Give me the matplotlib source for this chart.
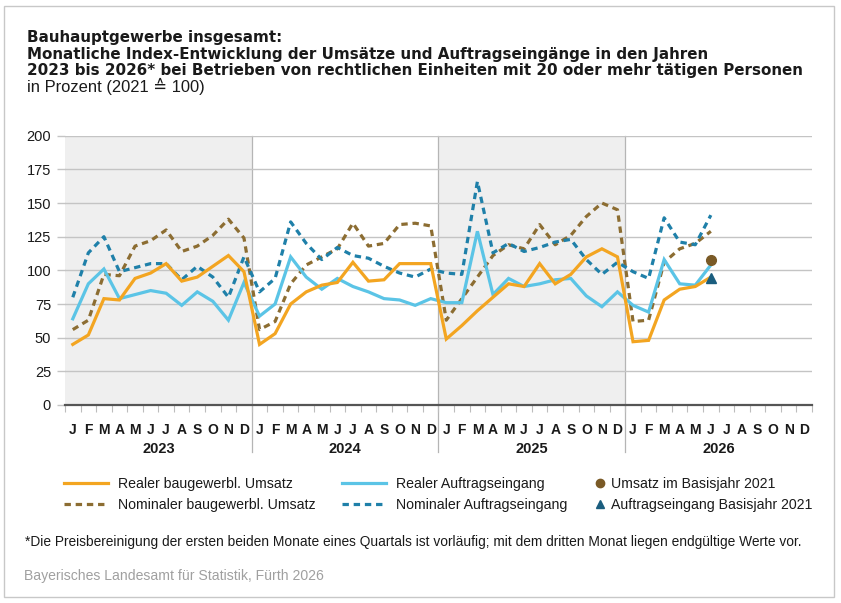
import matplotlib
matplotlib.use("Agg")
import matplotlib.pyplot as plt
from matplotlib.lines import Line2D
from matplotlib.patches import Rectangle
import numpy as np

# ------------------------------------------------------------------
# data (index values, 2021 = 100), Jan 2023 .. Jun 2026
# ------------------------------------------------------------------
years = ["2023", "2024", "2025", "2026"]
month_letters = ["J", "F", "M", "A", "M", "J", "J", "A", "S", "O", "N", "D"]

real_umsatz = [45, 52, 79, 78, 94, 98, 105, 92, 95, 103, 111, 99,
               45, 53, 75, 84, 89, 91, 106, 92, 93, 105, 105, 105,
               49, 59, 70, 80, 90, 88, 105, 90, 97, 110, 116, 110,
               47, 48, 78, 86, 88, 95]
nominal_umsatz = [56, 63, 97, 96, 118, 122, 130, 114, 118, 126, 138, 124,
                  56, 62, 90, 104, 110, 116, 135, 118, 120, 134, 135, 133,
                  63, 79, 95, 111, 119, 116, 134, 119, 126, 140, 150, 145,
                  62, 63, 106, 116, 120, 129]
real_auftrag = [64, 90, 101, 79, 82, 85, 83, 74, 84, 77, 63, 91,
                66, 75, 110, 95, 86, 94, 88, 84, 79, 78, 74, 79,
                76, 76, 129, 82, 94, 88, 90, 93, 94, 81, 73, 84,
                74, 69, 108, 90, 89, 104]
nominal_auftrag = [80, 113, 125, 99, 102, 105, 105, 93, 103, 95, 80, 110,
                   84, 94, 136, 120, 108, 117, 111, 109, 103, 98, 95, 101,
                   98, 97, 166, 113, 120, 114, 117, 121, 123, 108, 97, 106,
                   99, 94, 139, 121, 119, 141]
basis_umsatz = 108      # Umsatz im Basisjahr 2021 (shown at Jun 2026)
basis_auftrag = 94      # Auftragseingang Basisjahr 2021
basis_month = 41        # index of Jun 2026

# ------------------------------------------------------------------
# styling
# ------------------------------------------------------------------
plt.rcParams['font.family'] = ['Liberation Sans', 'DejaVu Sans']
c_orange = '#f3a521'
c_lblue = '#5bc4e6'
c_brown = '#8c6d32'
c_dblue = '#1f80a9'
c_grid = '#c4c4c4'
c_shade = '#efefef'
c_text = '#1a1a1a'

fig = plt.figure(figsize=(8.41, 6.03), dpi=100)
W, H = 841, 603

# outer frame
fig.patches.append(Rectangle((4 / W, 1 - 597 / H), 830 / W, 591 / H, transform=fig.transFigure,
                             facecolor='none', edgecolor='#c8c8c8', linewidth=1.0))

ax = fig.add_axes([65 / W, 198 / H, 747 / W, 269.3 / H])

n_months = 12 * len(years)
x = np.arange(len(real_umsatz)) + 0.5

# shaded years
for k in (0, 2):
    ax.axvspan(12 * k, 12 * (k + 1), color=c_shade, zorder=0, lw=0)

# year separators (extend down to the year labels)
for k in (1, 2, 3):
    ax.plot([12 * k, 12 * k], [1.0, -0.175], transform=ax.get_xaxis_transform(),
            color='#b5b5b5', lw=0.9, clip_on=False, zorder=1)

# horizontal gridlines
for v in range(25, 201, 25):
    ax.axhline(v, color=c_grid, lw=1.0, zorder=1)

# lines
ax.plot(x, real_umsatz, color=c_orange, lw=2.3, zorder=5, solid_joinstyle='miter')
ax.plot(x, real_auftrag, color=c_lblue, lw=2.3, zorder=4, solid_joinstyle='miter')
ax.plot(x, nominal_umsatz, color=c_brown, lw=2.3, dashes=(2.0, 1.5), zorder=3)
ax.plot(x, nominal_auftrag, color=c_dblue, lw=2.3, dashes=(2.0, 1.5), zorder=3)

ax.plot(x[basis_month], basis_umsatz, 'o', color='#7a5a26', ms=7, zorder=6)
ax.plot(x[basis_month], basis_auftrag, '^', color='#1a5d7e', ms=7, zorder=6)

# axes
ax.set_xlim(0, n_months)
ax.set_ylim(0, 200)
for s in ('top', 'right', 'left'):
    ax.spines[s].set_visible(False)
ax.spines['bottom'].set_color('#555555')
ax.spines['bottom'].set_linewidth(1.6)
ax.spines['bottom'].set_zorder(7)
ax.set_facecolor('none')

ax.set_yticks(range(0, 201, 25))
ax.tick_params(axis='y', length=6, width=1.0, color=c_grid, pad=4, labelsize=10.5, labelcolor=c_text)

ax.set_xticks(np.arange(n_months) + 0.5)
ax.set_xticklabels(month_letters * len(years), fontweight='bold', fontsize=10, color=c_text)
ax.set_xticks(np.arange(n_months + 1), minor=True)
ax.tick_params(axis='x', which='major', length=0, pad=13)
ax.tick_params(axis='x', which='minor', length=5, width=0.8, color='#bdbdbd')

# year labels
for k, yr in enumerate(years):
    ax.text(12 * k + 6, -0.165, yr, transform=ax.get_xaxis_transform(), ha='center', va='center',
            fontsize=10.5, fontweight='bold', color=c_text)

# legend
lh = [Line2D([], [], color=c_orange, lw=2.3),
      Line2D([], [], color=c_brown, lw=2.3, dashes=(2.0, 1.5)),
      Line2D([], [], color=c_lblue, lw=2.3),
      Line2D([], [], color=c_dblue, lw=2.3, dashes=(2.0, 1.5))]
ll = ['Realer baugewerbl. Umsatz', 'Nominaler baugewerbl. Umsatz',
      'Realer Auftragseingang', 'Nominaler Auftragseingang']
fig.legend(lh, ll, ncol=2, loc='upper left', bbox_to_anchor=(64 / W, 1 - 477 / H),
           frameon=False, fontsize=10.2, handlelength=3.1, handletextpad=0.72,
           columnspacing=1.85, labelspacing=0.48, borderpad=0, borderaxespad=0,
           labelcolor=c_text)
mh = [Line2D([], [], ls='none', marker='o', color='#7a5a26', ms=6),
      Line2D([], [], ls='none', marker='^', color='#1a5d7e', ms=6)]
ml = ['Umsatz im Basisjahr 2021', 'Auftragseingang Basisjahr 2021']
fig.legend(mh, ml, loc='upper left', bbox_to_anchor=(594 / W, 1 - 477 / H), frameon=False,
           fontsize=10.2, handlelength=0.8, handletextpad=0.4, labelspacing=0.48,
           borderpad=0, borderaxespad=0, labelcolor=c_text)

# titles
tx = 27 / W
title_font = ['DejaVu Sans']
fig.text(tx, 1 - 42 / H, 'Bauhauptgewerbe insgesamt:', fontsize=10.9, fontweight='bold',
         va='baseline', family=title_font, color=c_text)
fig.text(tx, 1 - 59 / H, 'Monatliche Index-Entwicklung der Umsätze und Auftragseingänge in den Jahren',
         fontsize=10.9, fontweight='bold', va='baseline', family=title_font, color=c_text)
fig.text(tx, 1 - 75.5 / H, '2023 bis 2026* bei Betrieben von rechtlichen Einheiten mit 20 oder mehr tätigen Personen',
         fontsize=10.9, fontweight='bold', va='baseline', family=title_font, color=c_text)
fig.text(tx, 1 - 92 / H, 'in Prozent (2021 \u2259 100)', fontsize=11.9, va='baseline', color=c_text)

# footnote and source
fig.text(25 / W, 1 - 542 / H,
         '*Die Preisbereinigung der ersten beiden Monate eines Quartals ist vorläufig; '
         'mit dem dritten Monat liegen endgültige Werte vor.', fontsize=9.9, va='center', color=c_text)
fig.text(24 / W, 1 - 576 / H, 'Bayerisches Landesamt für Statistik, Fürth 2026', fontsize=10.1,
         va='center', color='#a0a0a0')

fig.savefig('out.png', dpi=100)
